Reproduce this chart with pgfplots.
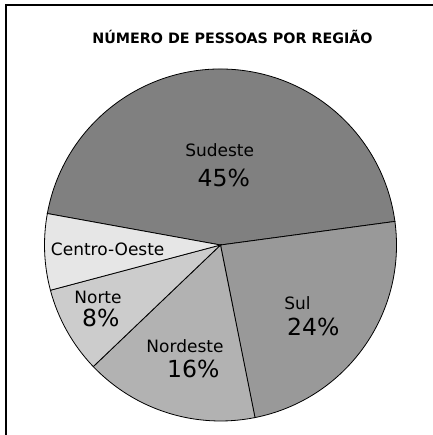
\documentclass[border=0pt]{standalone}
\usepackage{pgfplots}
\pgfplotsset{compat=1.18}
\usepackage{fontspec}
\setmainfont{DejaVu Sans}
\definecolor{cSud}{gray}{0.502}
\definecolor{cSul}{gray}{0.6}
\definecolor{cNe}{gray}{0.698}
\definecolor{cNo}{gray}{0.8}
\definecolor{cCO}{gray}{0.902}
% shares (%)
\def\vSud{45}\def\vSul{24}\def\vNe{16}\def\vNo{8}\def\vCO{7}
\pgfmathsetmacro\aA{169.7}
\pgfmathsetmacro\aB{\aA-\vSud*3.6}
\pgfmathsetmacro\aC{\aB-\vSul*3.6}
\pgfmathsetmacro\aD{\aC-\vNe*3.6}
\pgfmathsetmacro\aE{\aD-\vNo*3.6}
\pgfmathsetmacro\aF{\aE-\vCO*3.6}
\def\R{176bp}
\newcommand\lab{\fontsize{17bp}{20bp}\selectfont}
\newcommand\pct{\fontsize{23.5bp}{27bp}\selectfont}
\begin{document}
\begin{tikzpicture}
\path[use as bounding box] (0,0) rectangle (433bp,435bp);
\begin{axis}[at={(0,0)}, anchor=south west, scale only axis,
  width=433bp, height=435bp, xmin=0, xmax=433, ymin=0, ymax=435,
  hide axis, clip=false]
\addplot[draw=none] coordinates {(0,0) (433,435)};
\fill[cSud,draw=black,line width=0.8bp] (axis cs:220.5,190) -- ++(\aA:\R) arc[start angle=\aA, end angle=\aB, radius=\R] -- cycle;
\fill[cSul,draw=black,line width=0.8bp] (axis cs:220.5,190) -- ++(\aB:\R) arc[start angle=\aB, end angle=\aC, radius=\R] -- cycle;
\fill[cNe,draw=black,line width=0.8bp] (axis cs:220.5,190) -- ++(\aC:\R) arc[start angle=\aC, end angle=\aD, radius=\R] -- cycle;
\fill[cNo,draw=black,line width=0.8bp] (axis cs:220.5,190) -- ++(\aD:\R) arc[start angle=\aD, end angle=\aE, radius=\R] -- cycle;
\fill[cCO,draw=black,line width=0.8bp] (axis cs:220.5,190) -- ++(\aE:\R) arc[start angle=\aE, end angle=\aF, radius=\R] -- cycle;
\node[anchor=base,inner sep=0pt] at (axis cs:219.7,278.3) {\lab Sudeste};
\node[anchor=base,inner sep=0pt] at (axis cs:223.8,248.3) {\pct 45\%};
\node[anchor=base,inner sep=0pt] at (axis cs:297.5,125.7) {\lab Sul};
\node[anchor=base,inner sep=0pt] at (axis cs:313.3,99) {\pct 24\%};
\node[anchor=base,inner sep=0pt] at (axis cs:107.7,179.3) {\lab Centro-Oeste};
\node[anchor=base,inner sep=0pt] at (axis cs:98,131) {\lab Norte};
\node[anchor=base,inner sep=0pt] at (axis cs:100.8,108.3) {\pct 8\%};
\node[anchor=base,inner sep=0pt] at (axis cs:185,82.3) {\lab Nordeste};
\node[anchor=base,inner sep=0pt] at (axis cs:193.3,57.3) {\pct 16\%};
\node[anchor=base,inner sep=0pt] at (axis cs:232.5,391.7) {\fontsize{14.3bp}{17bp}\selectfont\bfseries NÚMERO DE PESSOAS POR REGIÃO};
\draw[line width=2bp] (axis cs:6,0) -- (axis cs:6,430) -- (axis cs:433,430);
\end{axis}
\end{tikzpicture}
\end{document}
